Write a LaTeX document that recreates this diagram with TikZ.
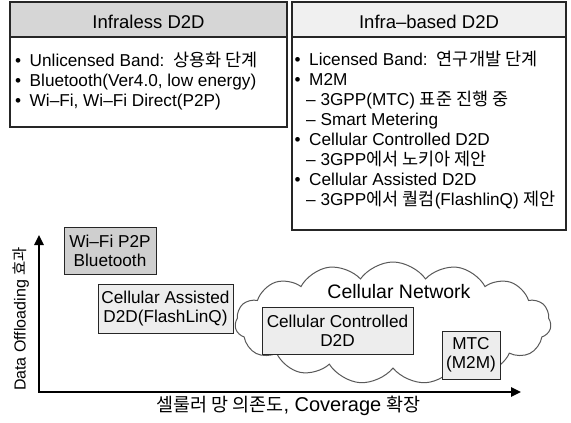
\documentclass[tikz,border=0pt]{standalone}
\usepackage{fontspec}
\setmainfont{Liberation Sans}
\newfontfamily\ko{Noto Sans CJK KR}
\newcommand{\K}[2][17.5]{{\ko\fontsize{#1}{20}\selectfont #2}}
\newcommand{\bul}{•\hspace{8.5pt}}
\usetikzlibrary{shapes.symbols,arrows.meta}
\begin{document}
\begin{tikzpicture}[x=1pt,y=-1pt,
  frame/.style={draw=black!85, line width=1.1pt, inner sep=0pt},
  hdr/.style={frame, minimum height=35pt},
  htext/.style={anchor=base, inner sep=0pt, font=\fontsize{18.5}{20}\selectfont},
  line/.style={anchor=base west, inner sep=0pt, font=\fontsize{17.2}{20}\selectfont},
  gbox/.style={frame, line width=1pt, align=center, font=\fontsize{17.2}{19}\selectfont},
  axis/.style={line width=2.4pt, black},
  lbl/.style={inner sep=0pt}]
\useasboundingbox (0,0) rectangle (571,423);
% top-left box
\node[frame, minimum width=277pt, minimum height=125pt] (L) at (148.5,64.5) {};
\node[hdr, fill=black!16, minimum width=277pt] (Lh) at (148.5,19.5) {};
\node[htext] (Lht) at (148.5,28.3) {Infraless D2D};
\node[line] (l1) at (15,66) {\bul Unlicensed Band:\hspace{9pt}\K{상용화 단계}};
\node[line] (l2) at (15,86) {\bul Bluetooth(Ver4.0, low energy)};
\node[line] (l3) at (15,106) {\bul Wi–Fi, Wi–Fi Direct(P2P)};
% top-right box
\node[frame, minimum width=274pt, minimum height=228pt] (R) at (429,116) {};
\node[hdr, fill=black!6, minimum width=274pt] (Rh) at (429,19.5) {};
\node[htext] (Rht) at (429,28.3) {Infra–based D2D};
\node[line] (r1) at (294.5,65.5) {\bul Licensed Band:\hspace{9pt}\K{연구개발 단계}};
\node[line] (r2) at (294.5,85.5) {\bul M2M};
\node[line] (r3) at (306,105.5) {– 3GPP(MTC) \K{표준 진행 중}};
\node[line] (r4) at (306,125.5) {– Smart Metering};
\node[line] (r5) at (294.5,145.5) {\bul Cellular Controlled D2D};
\node[line] (r6) at (306,165.5) {– 3GPP\K{에서 노키아 제안}};
\node[line] (r7) at (294.5,185.5) {\bul Cellular Assisted D2D};
\node[line] (r8) at (306,205.5) {– 3GPP\K{에서 퀄컴}(FlashlinQ) \K{제안}};
% cloud
\node[cloud, cloud puffs=15, cloud puff arc=110, aspect=2.6, draw=black!65, line width=1pt, fill=white,
      minimum width=316pt, minimum height=122pt] (net) at (393,323) {};
\node[lbl, font=\fontsize{19.5}{20}\selectfont] (nett) at (399,292) {Cellular Network};
% graph boxes
\node[gbox, fill=black!19, minimum width=92pt, minimum height=47pt] (wifi) at (110,250.5) {Wi–Fi P2P\\Bluetooth};
\node[gbox, fill=black!7, minimum width=135pt, minimum height=49pt] (assist) at (165.5,308.5) {Cellular Assisted\\D2D(FlashLinQ)};
\node[gbox, fill=black!7, minimum width=151pt, minimum height=47pt] (ctrl) at (337.5,330.5) {Cellular Controlled\\D2D};
\node[gbox, fill=black!7, minimum width=58pt, minimum height=48pt] (mtc) at (471,355) {MTC\\(M2M)};
% axes
\coordinate (O) at (39,392);
\coordinate (Yt) at (39,235);
\coordinate (Xt) at (521,392);
\draw[axis, {Triangle[length=10pt,width=9pt]}-{Triangle[length=10pt,width=9pt]}] (Yt) -- (O) -- (Xt);
\node[lbl, rotate=90, font=\fontsize{16}{18}\selectfont] (ylab) at (21,319) {Data Offloading \K[15.5]{효과}};
\node[lbl, font=\fontsize{20}{20}\selectfont] (xlab) at (288.5,406) {\K[18.5]{셀룰러 망 의존도}, Coverage \K[18.5]{확장}};
\end{tikzpicture}
\end{document}
